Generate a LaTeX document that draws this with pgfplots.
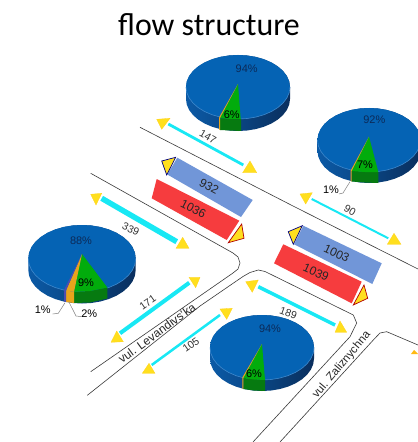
\documentclass[border=0pt]{standalone}
\usepackage{fontspec}
\setmainfont{Liberation Sans}
\newfontfamily\titlefont{Carlito}
\usepackage{pgfplots}
\usepackage{pgfplotstable}
\pgfplotsset{compat=1.18}

\definecolor{piebody}{HTML}{0563B4}
\definecolor{pieedge}{HTML}{3F88CC}
\definecolor{sideL}{HTML}{0B5AA6}
\definecolor{sideR}{HTML}{0A2F5E}
\definecolor{pgreen}{HTML}{02AC0C}
\definecolor{pgreend}{HTML}{067A10}
\definecolor{porange}{HTML}{E8A41C}
\definecolor{arrowc}{HTML}{18E8F4}
\definecolor{tri}{HTML}{FFDF1E}
\definecolor{bluebar}{HTML}{7196D8}
\definecolor{redbar}{HTML}{F63C3E}
\definecolor{pietext}{HTML}{0C2A58}
\definecolor{road}{HTML}{3A3A3A}

% outline of a pie: u,v on the unit circle, w=1 for the lowered front half
\pgfplotstableread{
u v w
1 0 0
1 0 1
0.985 0.174 1
0.940 0.342 1
0.866 0.500 1
0.766 0.643 1
0.643 0.766 1
0.500 0.866 1
0.342 0.940 1
0.174 0.985 1
0 1 1
-0.174 0.985 1
-0.342 0.940 1
-0.500 0.866 1
-0.643 0.766 1
-0.766 0.643 1
-0.866 0.500 1
-0.940 0.342 1
-0.985 0.174 1
-1 0 1
-1 0 0
-0.985 -0.174 0
-0.940 -0.342 0
-0.866 -0.500 0
-0.766 -0.643 0
-0.643 -0.766 0
-0.500 -0.866 0
-0.342 -0.940 0
-0.174 -0.985 0
0 -1 0
0.174 -0.985 0
0.342 -0.940 0
0.500 -0.866 0
0.643 -0.766 0
0.766 -0.643 0
0.866 -0.500 0
0.940 -0.342 0
0.985 -0.174 0
1 0 0
}\ring
\pgfplotstableread{
u v
1 0
0.985 0.174
0.940 0.342
0.866 0.500
0.766 0.643
0.643 0.766
0.500 0.866
0.342 0.940
0.174 0.985
0 1
-0.174 0.985
-0.342 0.940
-0.500 0.866
-0.643 0.766
-0.766 0.643
-0.866 0.500
-0.940 0.342
-0.985 0.174
-1 0
}\frontrim

% cx cy rx ry depth
\newcommand{\piebase}[5]{
  \addplot[left color=sideL, right color=sideR, draw=none]
    table[x expr=#1+#3*\thisrow{u}, y expr=#2+#4*\thisrow{v}+#5*\thisrow{w}] {\ring};
  \addplot[fill=piebody, draw=none]
    table[x expr=#1+#3*\thisrow{u}, y expr=#2+#4*\thisrow{v}] {\ring};
  \addplot[draw=pieedge, line width=0.6pt]
    table[x expr=#1+#3*\thisrow{u}, y expr=#2+#4*\thisrow{v}] {\frontrim};
}
\newcommand{\poly}[2]{\addplot[fill=#1, draw=none] coordinates {#2} --cycle;}
\newcommand{\road}[1]{\addplot[draw=road, line width=0.6pt] coordinates {#1};}
\newcommand{\shaft}[2]{\addplot[draw=arrowc, line width=#1] coordinates {#2};}
\newcommand{\tri}[1]{\addplot[fill=tri, draw=tri!85!orange, line width=0.3pt] coordinates {#1} --cycle;}
\newcommand{\leader}[1]{\addplot[draw=gray, line width=0.5pt] coordinates {#1};}

\begin{document}
\begin{tikzpicture}
\begin{axis}[
  scale only axis, width=418bp, height=442bp,
  xmin=0, xmax=418, ymin=0, ymax=442, y dir=reverse,
  hide axis,
]
% white page, keeps the picture at full size
\poly{white}{(0,0)(418,0)(418,442)(0,442)}
% roads
\road{(140,127.3)(293,206)(418,269)}
\road{(90.7,173.3)(233,253)(238,257)(240,263)(238,269)(233,273)(90.7,371.7)}
\road{(87.3,395.3)(200,306)(243,276.5)(250,272.5)(258.3,270)(265,271.5)(353.3,315)(356.7,323)(350,336.7)(253,442)}
\road{(280,442)(373.3,340)(380,333)(386.7,331.7)(418,345)}

% count bars
\poly{bluebar}{(177.3,157.7)(252.7,200)(241,217)(167.3,174.5)}
\poly{redbar}{(156.7,179)(239.3,220.7)(226.7,240)(151.7,198.3)}
\poly{bluebar}{(303.3,225.7)(381.7,263.3)(372.3,284)(294,244.3)}
\poly{redbar}{(283.3,244.3)(361.7,281.7)(351.7,303.3)(274,263.3)}
\addplot[fill=tri, draw=blue!50!black, line width=0.7pt] coordinates {(161.7,161)(175.7,157.3)(166.7,175)} --cycle;
\addplot[fill=tri, draw=red!70!black, line width=0.7pt] coordinates {(228.3,242.7)(241.7,224)(244,238.3)} --cycle;
\addplot[fill=tri, draw=blue!50!black, line width=0.7pt] coordinates {(288.3,231.7)(302.3,225.7)(293.3,244.3)} --cycle;
\addplot[fill=tri, draw=red!70!black, line width=0.7pt] coordinates {(353.3,305)(364,285)(367.7,298.3)} --cycle;

% flow arrows
\shaft{2.8bp}{(168.3,124)(243.3,165)}
\tri{(156.7,119.3)(170,118.3)(161.7,129.3)}
\tri{(250,161)(256.7,172.7)(242.7,172.7)}
\shaft{2bp}{(311.7,199)(388.3,238.3)}
\tri{(300,194)(312.3,192.7)(305.7,204)}
\tri{(394,233.3)(401,244.3)(387.3,244.3)}
\shaft{5.5bp}{(101.7,198.3)(176.7,241.7)}
\tri{(90.7,194.3)(101.7,193.3)(96,205)}
\tri{(182.7,237.3)(189,248.3)(176,248.3)}
\shaft{4bp}{(120,333.3)(189.3,282.7)}
\tri{(189,277.3)(200,277.3)(195.7,287.7)}
\tri{(116.7,331)(123.3,341.7)(111,342.3)}
\shaft{2.5bp}{(151.7,365)(220,315)}
\tri{(220,309)(232.3,308.3)(226.7,319.3)}
\tri{(149,363.3)(155,373.3)(142.3,373.3)}
\shaft{3.5bp}{(258.3,286.7)(335,325)}
\tri{(245.7,281.7)(258.3,280)(252.3,292.3)}
\tri{(340,321)(346.7,332.3)(335,332.3)}
\poly{tri!60!orange}{(411,354)(414,350)(418,354)}

% pie top: 94 / 6
\piebase{238}{87}{52}{32}{12}
\poly{pgreend}{(220,118.3)(241,119)(241,131)(230,130.5)(220,130)}
\poly{pgreen}{(238,84)(220,118)(230,119)(240.7,119)}
\poly{porange}{(238,84)(219,117.5)(220,118)}
\poly{porange}{(219,117.5)(220,118)(220,130)(219,129.5)}
% pie right: 92 / 7 / 1
\piebase{369}{140}{51.5}{32}{11}
\poly{pgreend}{(351.7,171)(378.3,172)(378.3,183)(365,182.5)(351.7,181.5)}
\poly{pgreen}{(369,136.7)(351.7,171)(365,172)(378.3,172)}
\poly{porange}{(369,136.7)(350.7,170.5)(351.7,171)}
\poly{porange}{(350.7,170.5)(351.7,171)(351.7,181.5)(350.7,181)}
% pie left: 88 / 9 / 2 / 1
\piebase{82}{258.5}{53.7}{33.5}{11.5}
\poly{pgreend}{(74,291.8)(90,291)(107.3,287.5)(107.3,298.5)(90,302.5)(74,303)}
\poly{pgreen}{(82,254)(74,291.8)(90,291)(107.3,287.5)}
\poly{porange}{(82,254)(66,290.6)(74,291.8)}
\poly{porange}{(66,290.6)(74,291.8)(74,303)(66,302)}
\poly{blue!40!gray}{(82,254)(64,290)(66,290.6)}
\poly{blue!40!gray}{(64,290)(66,290.6)(66,302)(64,301.5)}
% pie bottom: 94 / 6
\piebase{262}{347.5}{52}{32.5}{11}
\poly{pgreend}{(243.3,378)(265,380)(265,391)(254,390.5)(243.3,389)}
\poly{pgreen}{(262,344)(243.3,378)(254,379.5)(265,380)}
\poly{porange}{(262,344)(242.3,377.5)(243.3,378)}
\poly{porange}{(242.3,377.5)(243.3,378)(243.3,389)(242.3,388.5)}

% leader lines
\leader{(350,181.7)(343,193)(339,194)}
\leader{(65,302.7)(58.3,313.3)(52.7,314)}
\leader{(69.3,302.7)(76,316)(81.7,316.7)}

% text
\node[font=\titlefont\fontsize{32}{32}\selectfont, text=black] at (axis cs:209,25) {flow structure};
\tikzset{lb/.style={font=\fontsize{10.5}{11}\selectfont, text=black!80, inner sep=0pt},
         bar/.style={font=\fontsize{12}{12}\selectfont, text=black!85, inner sep=0pt},
         pl/.style={font=\fontsize{11}{11}\selectfont, text=pietext, inner sep=0pt},
         pk/.style={font=\fontsize{11}{11}\selectfont, text=black, inner sep=0pt}}
\node[lb, rotate=-30] at (axis cs:208,137) {147};
\node[lb, rotate=-30] at (axis cs:350,210) {90};
\node[lb, rotate=-25] at (axis cs:130.7,229.3) {339};
\node[lb, rotate=35] at (axis cs:147.7,302.7) {171};
\node[lb, rotate=35] at (axis cs:191,345) {105};
\node[lb, rotate=-20] at (axis cs:288.3,312.7) {189};
\node[bar, rotate=-28] at (axis cs:209,186.7) {932};
\node[bar, rotate=-27] at (axis cs:193.3,209.3) {1036};
\node[bar, rotate=-25] at (axis cs:336.7,253.3) {1003};
\node[bar, rotate=-24] at (axis cs:316,272.3) {1039};
\node[bar, rotate=36] at (axis cs:157,333) {vul. Levandivs'ka};
\node[bar, font=\fontsize{11.5}{12}\selectfont, rotate=50] at (axis cs:341.7,365) {vul. Zaliznychna};
\node[pl] at (axis cs:246.7,68.3) {94\%};
\node[pk] at (axis cs:231.7,114.3) {6\%};
\node[pl] at (axis cs:374.3,120) {92\%};
\node[pk] at (axis cs:365,165) {7\%};
\node[pk] at (axis cs:331,190) {1\%};
\node[pl] at (axis cs:81,241) {88\%};
\node[pk] at (axis cs:86,282.3) {9\%};
\node[pk] at (axis cs:42.7,310) {1\%};
\node[pk] at (axis cs:89.3,314) {2\%};
\node[pl] at (axis cs:270,328.3) {94\%};
\node[pk] at (axis cs:254,374) {6\%};
\end{axis}
\end{tikzpicture}
\end{document}
